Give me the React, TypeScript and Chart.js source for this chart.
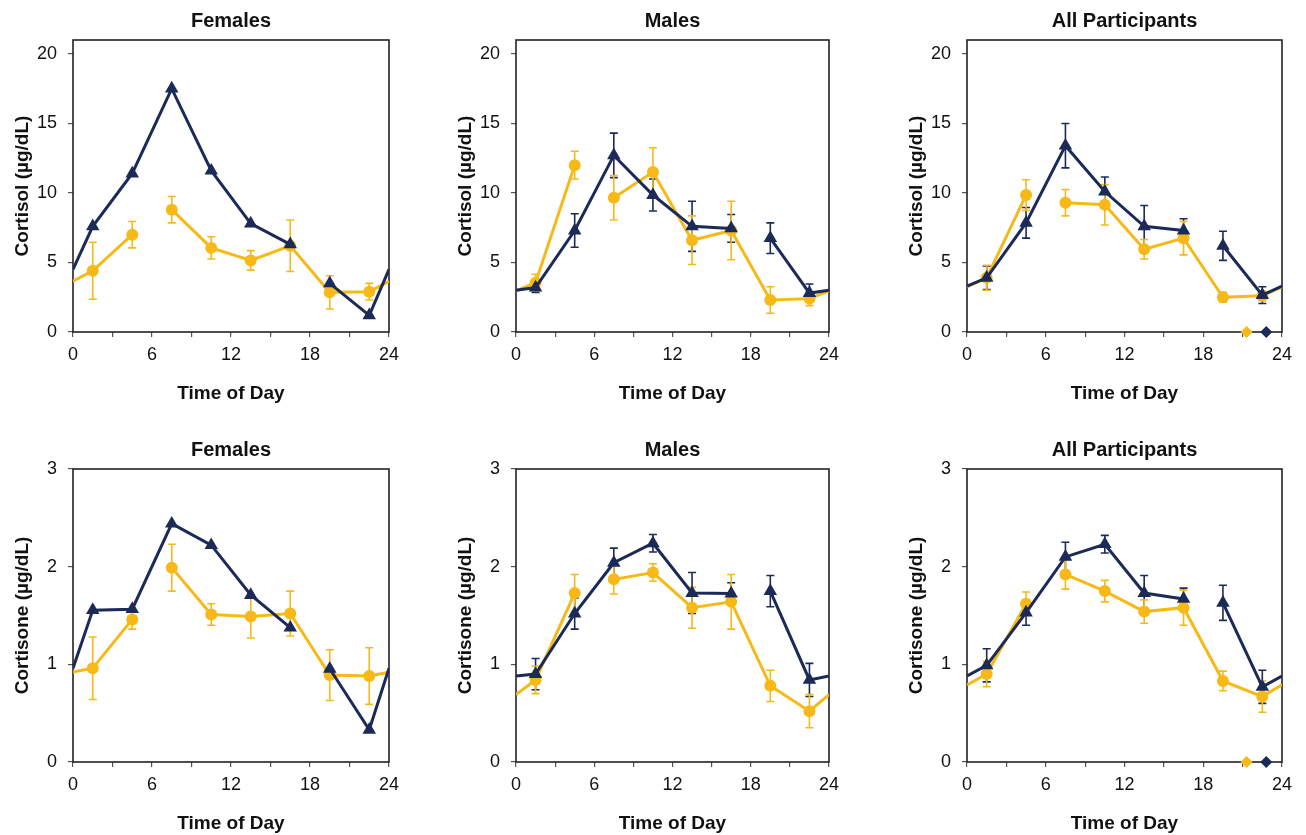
import React, { useEffect, useRef } from 'react';
import { Chart, registerables } from 'chart.js';

Chart.register(...registerables);

// ---------- data ----------
const hours = [1.5, 4.5, 7.5, 10.5, 13.5, 16.5, 19.5, 22.5];
const edgeHours = [0, 24];
const xTickLabels = [0, 6, 12, 18, 24];
const cortisolTicks = [0, 5, 10, 15, 20];
const cortisoneTicks = [0, 1, 2, 3];
const panelTitles = ['Females', 'Males', 'All Participants'];
const diamondHours = [21.3, 22.8];

// Cortisol – Females
const femCortisolNavy = [7.6, 11.4, 17.5, 11.6, 7.8, 6.3, 3.5, 1.2];
const femCortisolNavyEdge = [4.5, 4.5];
const femCortisolYellow = [4.4, 7.0, 8.8, 6.05, 5.15, 6.2, 2.85, 2.9];
const femCortisolYellowErr = [2.05, 0.95, 0.95, 0.8, 0.7, 1.85, 1.2, 0.6];
const femCortisolYellowEdge = [3.65, 3.65];

// Cortisol – Males
const maleCortisolNavy = [3.2, 7.3, 12.7, 9.85, 7.6, 7.45, 6.75, 2.8];
const maleCortisolNavyErr = [0.35, 1.2, 1.6, 1.15, 1.8, 1.0, 1.1, 0.65];
const maleCortisolNavyEdge = [3.0, 3.0];
const maleCortisolYellow = [3.55, 12.0, 9.65, 11.5, 6.6, 7.3, 2.3, 2.4];
const maleCortisolYellowErr = [0.6, 1.0, 1.6, 1.75, 1.75, 2.1, 0.95, 0.5];
const maleCortisolYellowEdge = [2.95, 2.95];

// Cortisol – All participants
const allCortisolNavy = [3.9, 7.85, 13.4, 10.1, 7.6, 7.3, 6.2, 2.65];
const allCortisolNavyErr = [0.85, 1.1, 1.6, 1.05, 1.5, 0.85, 1.05, 0.6];
const allCortisolNavyEdge = [3.3, 3.3];
const allCortisolYellow = [3.9, 9.85, 9.3, 9.15, 5.95, 6.75, 2.5, 2.6];
const allCortisolYellowErr = [0.9, 1.1, 0.95, 1.45, 0.7, 1.2, 0.35, 0.35];
const allCortisolYellowEdge = [3.25, 3.25];

// Cortisone – Females
const femCortisoneNavy = [1.555, 1.565, 2.44, 2.22, 1.71, 1.375, 0.955, 0.33];
const femCortisoneNavyEdge = [0.96, 0.96];
const femCortisoneYellow = [0.96, 1.46, 1.99, 1.51, 1.49, 1.52, 0.89, 0.88];
const femCortisoneYellowErr = [0.32, 0.1, 0.24, 0.11, 0.22, 0.23, 0.26, 0.29];
const femCortisoneYellowEdge = [0.92, 0.92];

// Cortisone – Males
const maleCortisoneNavy = [0.9, 1.52, 2.04, 2.24, 1.73, 1.725, 1.75, 0.84];
const maleCortisoneNavyErr = [0.16, 0.16, 0.15, 0.09, 0.21, 0.11, 0.16, 0.17];
const maleCortisoneNavyEdge = [0.88, 0.88];
const maleCortisoneYellow = [0.84, 1.73, 1.87, 1.94, 1.58, 1.64, 0.78, 0.52];
const maleCortisoneYellowErr = [0.14, 0.19, 0.15, 0.09, 0.21, 0.28, 0.16, 0.17];
const maleCortisoneYellowEdge = [0.69, 0.69];

// Cortisone – All participants
const allCortisoneNavy = [0.99, 1.53, 2.1, 2.23, 1.73, 1.67, 1.63, 0.77];
const allCortisoneNavyErr = [0.17, 0.13, 0.15, 0.09, 0.18, 0.11, 0.18, 0.17];
const allCortisoneNavyEdge = [0.88, 0.88];
const allCortisoneYellow = [0.9, 1.62, 1.92, 1.75, 1.54, 1.58, 0.83, 0.67];
const allCortisoneYellowErr = [0.13, 0.12, 0.15, 0.11, 0.12, 0.18, 0.1, 0.16];
const allCortisoneYellowEdge = [0.79, 0.79];

// segments not joined by a line (break after this hour)
const yellowBreakAfter = 4.5;
const navyBreakAfter = 16.5;

// ---------- styles ----------
const NAVY = '#1b2a57';
const YELLOW = '#f7b918';
const FONT = "'Liberation Sans', Arial, sans-serif";

const colPlot = [
  [73, 389],
  [516, 829],
  [967, 1282],
];
const rowPlot = [
  [39.5, 331],
  [469, 762],
];

type PanelCfg = {
  title: string;
  yLabel: string;
  yMax: number;
  yStep: number;
  yTicks: number[];
  navy: number[];
  navyErr: number[] | null;
  navyEdge: number[];
  yellow: number[];
  yellowErr: number[];
  yellowEdge: number[];
  diamonds: boolean;
  row: number;
  col: number;
};

const panels: PanelCfg[] = [
  { title: panelTitles[0], yLabel: 'Cortisol (µg/dL)', yMax: 21, yStep: 5, yTicks: cortisolTicks,
    navy: femCortisolNavy, navyErr: null, navyEdge: femCortisolNavyEdge,
    yellow: femCortisolYellow, yellowErr: femCortisolYellowErr, yellowEdge: femCortisolYellowEdge,
    diamonds: false, row: 0, col: 0 },
  { title: panelTitles[1], yLabel: 'Cortisol (µg/dL)', yMax: 21, yStep: 5, yTicks: cortisolTicks,
    navy: maleCortisolNavy, navyErr: maleCortisolNavyErr, navyEdge: maleCortisolNavyEdge,
    yellow: maleCortisolYellow, yellowErr: maleCortisolYellowErr, yellowEdge: maleCortisolYellowEdge,
    diamonds: false, row: 0, col: 1 },
  { title: panelTitles[2], yLabel: 'Cortisol (µg/dL)', yMax: 21, yStep: 5, yTicks: cortisolTicks,
    navy: allCortisolNavy, navyErr: allCortisolNavyErr, navyEdge: allCortisolNavyEdge,
    yellow: allCortisolYellow, yellowErr: allCortisolYellowErr, yellowEdge: allCortisolYellowEdge,
    diamonds: true, row: 0, col: 2 },
  { title: panelTitles[0], yLabel: 'Cortisone (µg/dL)', yMax: 3, yStep: 1, yTicks: cortisoneTicks,
    navy: femCortisoneNavy, navyErr: null, navyEdge: femCortisoneNavyEdge,
    yellow: femCortisoneYellow, yellowErr: femCortisoneYellowErr, yellowEdge: femCortisoneYellowEdge,
    diamonds: false, row: 1, col: 0 },
  { title: panelTitles[1], yLabel: 'Cortisone (µg/dL)', yMax: 3, yStep: 1, yTicks: cortisoneTicks,
    navy: maleCortisoneNavy, navyErr: maleCortisoneNavyErr, navyEdge: maleCortisoneNavyEdge,
    yellow: maleCortisoneYellow, yellowErr: maleCortisoneYellowErr, yellowEdge: maleCortisoneYellowEdge,
    diamonds: false, row: 1, col: 1 },
  { title: panelTitles[2], yLabel: 'Cortisone (µg/dL)', yMax: 3, yStep: 1, yTicks: cortisoneTicks,
    navy: allCortisoneNavy, navyErr: allCortisoneNavyErr, navyEdge: allCortisoneNavyEdge,
    yellow: allCortisoneYellow, yellowErr: allCortisoneYellowErr, yellowEdge: allCortisoneYellowEdge,
    diamonds: true, row: 1, col: 2 },
];

const LEFT = 73;
const TOP = 40;
const RIGHT = 14;
const BOTTOM = 75;

const errorBarPlugin = {
  id: 'errorBars',
  beforeDatasetsDraw(chart: any) {
    const { ctx, scales } = chart;
    const xs = scales.x;
    const ys = scales.y;
    chart.data.datasets.forEach((ds: any) => {
      if (!ds.errorBars) return;
      ctx.save();
      ctx.strokeStyle = ds.errorColor;
      ctx.lineWidth = 1.6;
      ds.data.forEach((p: any) => {
        const idx = hours.indexOf(p.x);
        if (idx < 0) return;
        const e = ds.errorBars[idx];
        const x = xs.getPixelForValue(p.x);
        const yt = ys.getPixelForValue(p.y + e);
        const yb = ys.getPixelForValue(p.y - e);
        ctx.beginPath();
        ctx.moveTo(x, yt);
        ctx.lineTo(x, yb);
        ctx.moveTo(x - 4, yt);
        ctx.lineTo(x + 4, yt);
        ctx.moveTo(x - 4, yb);
        ctx.lineTo(x + 4, yb);
        ctx.stroke();
      });
      ctx.restore();
    });
  },
};

const framePlugin = {
  id: 'frame',
  beforeDatasetsDraw(chart: any) {
    const { ctx, chartArea: a } = chart;
    ctx.save();
    ctx.strokeStyle = '#222';
    ctx.lineWidth = 1.6;
    ctx.strokeRect(a.left, a.top, a.right - a.left, a.bottom - a.top);
    ctx.restore();
  },
};

function seriesPoints(edge: number[], vals: number[]) {
  return [
    { x: edgeHours[0], y: edge[0] },
    ...hours.map((h, i) => ({ x: h, y: vals[i] })),
    { x: edgeHours[1], y: edge[1] },
  ];
}

function Panel({ cfg }: { cfg: PanelCfg }) {
  const ref = useRef<HTMLCanvasElement>(null);
  const [pl, pr] = colPlot[cfg.col];
  const [pt, pb] = rowPlot[cfg.row];
  const left = Math.round(pl - LEFT);
  const top = Math.round(pt - TOP);
  const width = Math.round(pr - pl + LEFT + RIGHT);
  const height = Math.round(pb - pt + TOP + BOTTOM);

  useEffect(() => {
    if (!ref.current) return;
    const isEdge = (ctx: any) => ctx.raw && (ctx.raw.x === edgeHours[0] || ctx.raw.x === edgeHours[1]);
    const datasets: any[] = [
      {
        label: 'Triangles',
        data: seriesPoints(cfg.navyEdge, cfg.navy),
        borderColor: NAVY,
        backgroundColor: NAVY,
        borderWidth: 3,
        pointStyle: 'triangle',
        pointRadius: (ctx: any) => (isEdge(ctx) ? 0 : 7.8),
        pointBorderWidth: 0,
        pointBackgroundColor: NAVY,
        tension: 0,
        segment: {
          borderColor: (ctx: any) => (ctx.p0.parsed.x === navyBreakAfter ? 'rgba(0,0,0,0)' : NAVY),
        },
        errorBars: cfg.navyErr,
        errorColor: NAVY,
      },
      {
        label: 'Circles',
        data: seriesPoints(cfg.yellowEdge, cfg.yellow),
        borderColor: YELLOW,
        backgroundColor: YELLOW,
        borderWidth: 3,
        pointStyle: 'circle',
        pointRadius: (ctx: any) => (isEdge(ctx) ? 0 : 6),
        pointBorderWidth: 0,
        pointBackgroundColor: YELLOW,
        tension: 0,
        segment: {
          borderColor: (ctx: any) => (ctx.p0.parsed.x === yellowBreakAfter ? 'rgba(0,0,0,0)' : YELLOW),
        },
        errorBars: cfg.yellowErr,
        errorColor: YELLOW,
      },
    ];
    if (cfg.diamonds) {
      datasets.unshift(
        {
          label: 'Navy marker',
          data: [{ x: diamondHours[1], y: 0 }],
          showLine: false,
          pointStyle: 'rectRot',
          pointRadius: 6,
          pointBorderWidth: 0,
          pointBackgroundColor: NAVY,
          backgroundColor: NAVY,
          borderColor: NAVY,
          clip: false,
        },
        {
          label: 'Yellow marker',
          data: [{ x: diamondHours[0], y: 0 }],
          showLine: false,
          pointStyle: 'rectRot',
          pointRadius: 6,
          pointBorderWidth: 0,
          pointBackgroundColor: YELLOW,
          backgroundColor: YELLOW,
          borderColor: YELLOW,
          clip: false,
        },
      );
    }

    const chart = new Chart(ref.current, {
      type: 'line',
      data: { datasets },
      options: {
        responsive: false,
        animation: false,
        devicePixelRatio: 1,
        layout: { padding: { left: 0, right: RIGHT, top: 0, bottom: 0 } },
        plugins: {
          legend: { display: false },
          tooltip: { enabled: false },
          title: {
            display: true,
            text: cfg.title,
            color: '#111',
            fullSize: false,
            font: { family: FONT, size: 20, weight: 'bold', lineHeight: 1.2 },
            padding: { top: 9, bottom: 7 },
          },
        },
        scales: {
          x: {
            type: 'linear',
            min: 0,
            max: 24,
            afterFit: (s: any) => {
              s.height = BOTTOM;
              s.paddingLeft = 0;
              s.paddingRight = 0;
            },
            ticks: {
              stepSize: 3,
              autoSkip: false,
              maxRotation: 0,
              includeBounds: false,
              padding: 7,
              color: '#111',
              font: { family: FONT, size: 18 },
              callback: (v: any) => (xTickLabels.includes(Number(v)) ? String(v) : ''),
            },
            grid: {
              drawOnChartArea: false,
              drawTicks: true,
              tickLength: 5,
              tickColor: '#555',
              lineWidth: 1.2,
            },
            border: { display: false },
            title: {
              display: true,
              text: 'Time of Day',
              color: '#111',
              font: { family: FONT, size: 19, weight: 'bold', lineHeight: 1.2 },
              padding: { top: 0, bottom: 2 },
            },
          },
          y: {
            type: 'linear',
            min: 0,
            max: cfg.yMax,
            afterFit: (s: any) => {
              s.width = LEFT;
              s.paddingTop = 0;
              s.paddingBottom = 0;
            },
            ticks: {
              stepSize: cfg.yStep,
              includeBounds: false,
              padding: 11,
              color: '#111',
              font: { family: FONT, size: 18 },
              callback: (v: any) => (cfg.yTicks.includes(Number(v)) ? String(v) : ''),
            },
            grid: {
              drawOnChartArea: false,
              drawTicks: true,
              tickLength: 5,
              tickColor: '#555',
              lineWidth: 1.2,
            },
            border: { display: false },
            title: {
              display: true,
              text: cfg.yLabel,
              color: '#111',
              font: { family: FONT, size: 19, weight: 'bold', lineHeight: 1.2 },
              padding: { top: 11, bottom: 0 },
            },
          },
        },
      },
      plugins: [framePlugin, errorBarPlugin],
    } as any);
    return () => chart.destroy();
  }, []);

  return (
    <canvas
      ref={ref}
      width={width}
      height={height}
      style={{ position: 'absolute', left, top, width, height }}
    />
  );
}

export default function App() {
  return (
    <div style={{ position: 'absolute', left: 0, top: 0, width: 1306, height: 835, background: '#fff', overflow: 'hidden' }}>
      {panels.map((p, i) => (
        <Panel key={i} cfg={p} />
      ))}
    </div>
  );
}
